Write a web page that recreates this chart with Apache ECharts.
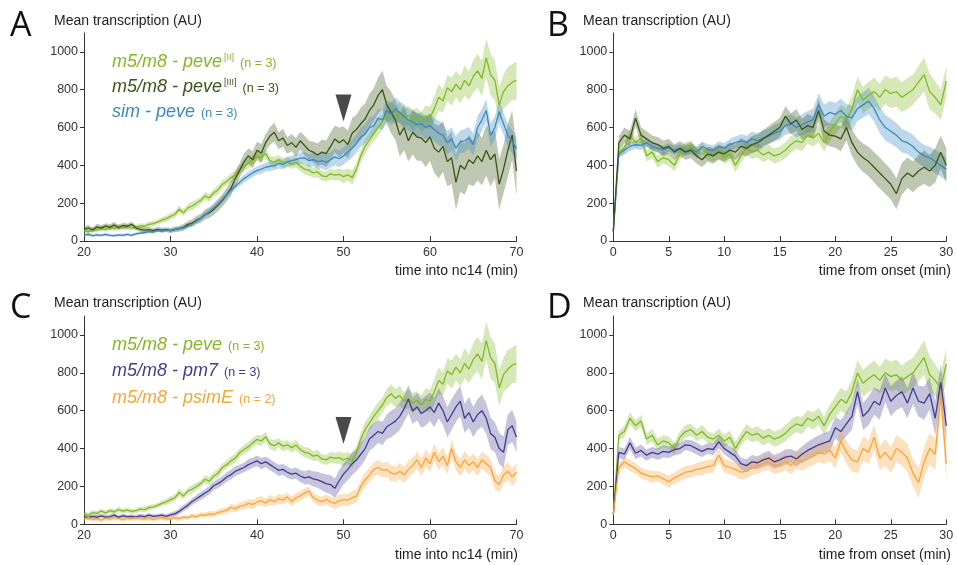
<!DOCTYPE html>
<html>
<head>
<meta charset="utf-8">
<script src="https://cdn.jsdelivr.net/npm/echarts@6/dist/echarts.min.js"></script>
<style>html,body{margin:0;padding:0;background:#fff}#chart{width:957px;height:565px}</style>
</head>
<body>
<div id="chart"></div>
<script>
// tick labels
var xTicksNc14 = [20, 30, 40, 50, 60, 70];
var xTicksOnset = [0, 5, 10, 15, 20, 25, 30];
var yTicks = [0, 200, 400, 600, 800, 1000];

// panels A / C : time into nc14, 20..70 min, every 0.5 min
var peveA = [55,48,62,58,70,60,72,65,78,70, 75,68,72,80,78,88,92,100,110,118,
  130,140,168,150,175,185,200,215,238,228, 255,270,300,315,335,350,378,395,410,430,
  448,440,462,425,415,430,412,420,405,418, 395,380,375,360,365,345,340,355,348,352,
  340,350,335,380,450,500,535,570,600,630, 670,690,665,680,650,665,640,655,630,660,
  650,700,760,740,810,790,830,800,850,820, 870,900,860,970,880,850,720,790,820,840,850];
var peveAErr = [12,13,12,14,12,13,12,14,13,12, 14,13,12,14,13,15,14,13,15,16,
  18,17,20,18,19,22,20,18,21,22, 20,24,22,20,25,23,22,24,26,25,
  25,28,24,26,30,25,27,24,26,28, 25,27,30,26,28,25,27,30,28,32,
  35,32,38,34,36,40,38,42,45,40, 45,50,48,52,46,50,55,48,52,58,
  60,65,70,62,68,75,70,72,80,75, 85,90,95,100,110,105,95,90,100,95,100];

var peve3A = [62,70,58,75,68,80,72,85,70,82, 78,88,70,62,58,60,55,62,58,60,
  55,62,65,72,88,95,110,120,140,150, 168,190,215,245,280,330,375,420,450,430,
  480,465,520,555,575,530,545,505,520,495, 530,505,480,470,455,470,462,500,540,520,
  535,510,570,590,620,645,690,720,770,800, 720,680,640,560,600,530,575,550,545,520,
  550,490,470,500,420,440,310,400,380,430, 410,450,420,480,430,460,300,380,480,560,370];
var peve3AErr = [14,15,14,16,15,14,16,15,14,15, 15,14,13,14,13,14,13,12,13,12,
  14,15,16,18,17,20,22,24,26,28, 30,32,34,36,38,40,38,42,40,45,
  45,48,44,46,50,45,48,44,46,50, 48,52,50,55,60,65,70,75,70,80,
  70,75,80,78,85,82,90,88,95,100, 100,110,105,115,120,110,118,125,120,130,
  125,130,140,135,130,138,145,140,135,130, 120,130,125,135,140,130,135,128,140,130,135];

var simA = [30,35,28,32,30,35,30,28,32,30, 35,30,38,42,45,50,48,55,52,58,
  55,60,65,70,78,90,105,120,140,155, 175,195,220,245,270,290,310,330,345,360,
  372,380,390,395,400,410,405,418,425,430, 438,440,425,430,420,425,415,430,445,435,
  450,470,490,515,550,565,600,610,650,640, 690,670,700,680,660,640,630,615,620,600,
  610,590,570,560,520,540,490,525,530,545, 510,600,640,690,560,600,684,620,560,525,490];
var simAErr = [7,8,7,8,7,8,7,8,7,8, 7,8,7,8,8,9,8,9,8,9,
  9,10,10,11,12,12,13,14,14,15, 15,16,16,17,18,18,19,20,20,22,
  22,24,22,25,24,26,25,28,26,28, 30,32,34,36,38,40,42,40,44,45,
  45,48,50,48,52,50,55,52,50,55, 55,58,60,58,62,60,58,62,60,64,
  60,62,65,60,64,62,65,60,62,58, 60,62,58,60,64,60,62,58,60,62,60];

var pm7C = [40,35,42,38,45,38,40,48,38,45, 40,42,38,45,40,48,42,45,48,42,
  50,55,68,85,100,120,135,150,165,180, 205,215,230,250,262,280,290,300,315,325,
  335,320,330,315,300,285,290,275,265,270, 255,245,250,240,235,225,215,210,190,230,
  265,290,320,340,370,400,450,470,490,480, 515,530,545,570,610,660,600,620,585,600,
  620,590,640,600,540,580,620,650,560,590, 540,580,600,560,480,460,400,380,500,520,460];
var pm7CErr = [10,11,10,12,11,10,12,11,10,12, 11,10,12,11,10,12,11,10,12,11,
  12,14,15,16,18,18,20,20,22,22, 22,24,24,25,26,25,26,25,28,27,
  28,30,28,30,28,30,28,30,28,30, 32,35,38,40,42,45,48,50,52,55,
  55,58,60,58,62,60,62,64,60,62, 65,70,68,72,70,75,70,72,75,78,
  75,78,80,76,80,82,78,80,76,82, 80,82,85,80,84,80,82,85,80,85,80];

var psimEC = [28,35,25,30,22,32,28,35,30,25, 32,28,35,30,28,33,25,30,35,28,
  30,35,30,38,35,45,40,50,48,55, 52,62,68,75,90,82,95,100,110,105,
  118,125,112,130,120,135,128,145,120,140, 150,165,175,140,128,120,132,118,110,125,
  130,128,140,150,200,235,260,290,300,285, 290,270,265,280,260,290,310,340,300,350,
  320,380,330,360,310,400,330,300,340,310, 330,300,340,320,300,230,210,260,280,250,275];
var psimECErr = [10,11,10,12,11,10,12,11,10,12, 11,10,12,11,10,12,11,10,12,11,
  12,11,12,13,12,13,14,13,14,15, 15,16,17,18,18,20,20,22,22,24,
  22,24,22,25,24,26,25,24,26,25, 24,26,25,24,26,25,26,28,30,32,
  30,32,34,36,35,38,36,38,40,38, 40,42,40,44,42,45,42,44,46,45,
  44,46,45,48,46,48,45,46,48,45, 44,46,45,48,46,44,45,46,48,45,46];

// panels B / D : time from onset, 0..30 min, every 0.5 min
var peveB = [50,470,490,560,520,545,450,470,420,440, 430,400,460,490,500,470,490,460,450,470,
  440,460,400,450,490,470,480,455,470,450, 460,480,510,530,520,560,545,570,520,580,
  620,660,640,700,800,745,770,790,760,800, 780,790,760,780,800,840,880,790,760,720,845];
var peveBErr = [10,25,30,32,30,32,30,34,32,30, 34,32,30,34,32,30,34,32,30,34,
  32,34,36,35,38,36,38,40,38,40, 40,42,44,42,45,44,46,45,48,50,
  55,60,62,65,68,70,72,75,72,75, 78,80,78,82,80,85,90,95,85,80,85];

var peve3B = [50,520,560,540,650,560,540,520,510,490, 500,470,490,470,480,450,430,460,450,470,
  460,480,470,500,490,510,520,540,560,580, 600,660,620,640,590,610,600,690,580,560,
  555,540,600,520,470,440,420,390,360,330, 300,250,330,360,340,370,390,370,400,470,400];
var peve3BErr = [10,35,40,42,45,42,40,38,40,42, 40,42,38,40,42,40,38,40,42,40,
  40,42,40,44,42,45,44,46,48,50, 50,52,55,58,55,60,58,60,62,60,
  62,65,68,70,72,75,78,80,82,80, 80,82,85,80,82,85,88,85,90,88,90];

var simB = [50,460,480,500,510,505,520,500,490,480, 495,480,490,475,485,470,500,485,480,500,
  490,510,520,530,520,540,530,545,555,570, 580,610,620,600,615,630,640,720,660,680,
  670,690,660,650,700,720,740,700,640,600, 580,560,530,520,500,470,450,440,420,400,380];
var simBErr = [10,20,22,24,22,24,22,20,22,24, 22,24,22,24,26,24,26,28,26,28,
  28,30,32,34,36,38,40,42,40,44, 45,48,50,52,55,58,60,62,60,62,
  60,62,64,66,65,68,70,68,70,68, 66,64,62,60,62,60,58,60,62,60,60];

var pm7D = [50,380,370,430,375,390,365,380,370,385, 380,395,400,420,415,400,385,400,395,435,
  400,380,360,320,310,330,325,340,350,330, 340,355,360,345,370,390,405,420,430,440,
  510,490,530,570,700,570,600,650,630,720, 650,680,700,640,720,650,640,690,560,750,520];
var pm7DErr = [10,28,30,32,30,32,30,28,30,32, 30,32,30,28,30,32,30,28,30,32,
  30,32,34,32,34,36,34,36,38,36, 38,40,38,40,42,45,48,50,52,55,
  58,60,65,70,68,72,75,72,78,75, 80,78,82,80,85,82,88,85,90,95,90];

var psimED = [50,300,330,310,295,270,260,250,255,240, 225,245,260,275,280,290,295,305,310,365,
  310,300,290,275,280,300,310,320,330,310, 315,330,310,340,330,345,360,380,370,390,
  350,440,380,340,330,400,380,460,350,380, 340,400,380,350,270,220,330,400,370,680,320];
var psimEDErr = [10,25,28,30,28,30,28,30,28,30, 32,30,32,34,32,34,36,34,36,35,
  38,36,38,40,38,40,42,40,42,44, 42,44,46,45,48,46,48,50,52,55,
  55,58,60,62,60,65,62,68,65,70, 68,72,70,75,72,78,80,82,85,90,88];

var lightGreen = '#84b823', darkGreen = '#3b5514', blue = '#3b88c3', purple = '#413c8f', orange = '#f8a53a';
var FONT = '"Liberation Sans", Arial, Helvetica, sans-serif';

function timeGrid(start, n) {
    var out = [];
    for (var i = 0; i < n; i++) out.push(start + i * 0.5);
    return out;
}
var tNc14 = timeGrid(20, peveA.length);
var tOnset = timeGrid(0, peveB.length);

function lineSeries(idx, ts, vs, color) {
    var d = [];
    for (var i = 0; i < vs.length; i++) d.push([ts[i], vs[i]]);
    return {
        type: 'line', xAxisIndex: idx, yAxisIndex: idx, data: d,
        showSymbol: false, symbol: 'none', z: 3, silent: true,
        lineStyle: {color: color, width: 1.3}, itemStyle: {color: color}
    };
}

// shaded error band drawn as one polygon through the axes
function bandSeries(idx, ts, vs, es, fill) {
    var rows = [];
    for (var i = 0; i < vs.length; i++) rows.push([ts[i], vs[i] - es[i], vs[i] + es[i]]);
    return {
        type: 'custom', xAxisIndex: idx, yAxisIndex: idx, data: rows, z: 2, silent: true,
        encode: {x: 0, y: [1, 2]},
        renderItem: function (params, api) {
            if (params.dataIndex !== 0) return null;
            var top = [], bot = [];
            for (var j = 0; j < rows.length; j++) {
                top.push(api.coord([rows[j][0], rows[j][2]]));
                bot.unshift(api.coord([rows[j][0], rows[j][1]]));
            }
            return {type: 'polygon', shape: {points: top.concat(bot)}, style: {fill: fill}};
        }
    };
}

function xAxis(idx, min, max, step, ticks) {
    return {
        type: 'value', gridIndex: idx, min: min, max: max, interval: step,
        axisLine: {show: true, onZero: false, lineStyle: {color: '#333', width: 1}},
        axisTick: {show: true, inside: true, length: 5, lineStyle: {color: '#333'}, customValues: ticks},
        axisLabel: {color: '#333', fontSize: 12.5, fontFamily: FONT, margin: 5, customValues: ticks},
        splitLine: {show: false}
    };
}
function yAxis(idx) {
    return {
        type: 'value', gridIndex: idx, min: 0, max: 1100, interval: 200,
        axisLine: {show: true, onZero: false, lineStyle: {color: '#333', width: 1}},
        axisTick: {show: true, length: 4, lineStyle: {color: '#333'}, customValues: yTicks},
        axisLabel: {color: '#333', fontSize: 12.5, fontFamily: FONT, margin: 6, customValues: yTicks,
            formatter: function (v) { return v > 1000 ? '' : v; }},
        splitLine: {show: false}
    };
}

function txt(x, y, s, size, align, color) {
    return {type: 'text', x: x, y: y, silent: true,
        style: {text: s, fontSize: size, fontFamily: FONT, fill: color || '#222', align: align || 'left', verticalAlign: 'middle'}};
}
function letter(x, y, s) {
    return {type: 'text', x: x, y: y, silent: true,
        style: {text: s, fontSize: 34, fontFamily: '"Open Sans", sans-serif', fill: '#111', verticalAlign: 'middle'}};
}
function legendText(x, y, main, sup, n, color) {
    var s = '{a|' + main + '}' + (sup ? '{s|' + sup + '}' : '') + '{n|' + n + '}';
    return {type: 'text', x: x, y: y, silent: true,
        style: {text: s, verticalAlign: 'middle', rich: {
            a: {fontSize: 18, fontStyle: 'italic', fontFamily: FONT, fill: color, color: color},
            s: {fontSize: 9, fontFamily: FONT, fill: color, color: color, verticalAlign: 'top', padding: [0, 0, 0, 2]},
            n: {fontSize: 12.5, fontFamily: FONT, fill: color, color: color, padding: [3, 0, 0, 6]}
        }}};
}

function arrow(value) {
    return {symbol: 'triangle', symbolRotate: 180, symbolSize: [16, 27],
        itemStyle: {color: '#4a4a4a'}, label: {show: false}, silent: true,
        data: [{coord: [50, value]}]};
}

var sA1 = lineSeries(0, tNc14, peveA, lightGreen);
sA1.markPoint = arrow(704);
var sC1 = lineSeries(2, tNc14, peveA, lightGreen);
sC1.markPoint = arrow(495);

var chart = echarts.init(document.getElementById('chart'), null, {renderer: 'canvas'});
chart.setOption({
    animation: false,
    backgroundColor: '#fff',
    grid: [
        {left: 84, top: 33, width: 432.5, height: 208},
        {left: 613.3, top: 33, width: 333, height: 208},
        {left: 84, top: 316, width: 432.5, height: 208.3},
        {left: 613.3, top: 316, width: 333, height: 208.3}
    ],
    xAxis: [
        xAxis(0, 20, 70, 10, xTicksNc14),
        xAxis(1, 0, 30, 5, xTicksOnset),
        xAxis(2, 20, 70, 10, xTicksNc14),
        xAxis(3, 0, 30, 5, xTicksOnset)
    ],
    yAxis: [yAxis(0), yAxis(1), yAxis(2), yAxis(3)],
    series: [
        bandSeries(0, tNc14, peveA, peveAErr, 'rgba(132,184,35,0.33)'),
        bandSeries(0, tNc14, peve3A, peve3AErr, 'rgba(59,85,20,0.33)'),
        bandSeries(0, tNc14, simA, simAErr, 'rgba(59,136,195,0.33)'),
        sA1,
        lineSeries(0, tNc14, peve3A, darkGreen),
        lineSeries(0, tNc14, simA, blue),

        bandSeries(1, tOnset, peveB, peveBErr, 'rgba(132,184,35,0.33)'),
        bandSeries(1, tOnset, simB, simBErr, 'rgba(59,136,195,0.33)'),
        bandSeries(1, tOnset, peve3B, peve3BErr, 'rgba(59,85,20,0.33)'),
        lineSeries(1, tOnset, peveB, lightGreen),
        lineSeries(1, tOnset, simB, blue),
        lineSeries(1, tOnset, peve3B, darkGreen),

        bandSeries(2, tNc14, peveA, peveAErr, 'rgba(132,184,35,0.33)'),
        bandSeries(2, tNc14, pm7C, pm7CErr, 'rgba(65,60,143,0.3)'),
        bandSeries(2, tNc14, psimEC, psimECErr, 'rgba(248,165,58,0.33)'),
        sC1,
        lineSeries(2, tNc14, pm7C, purple),
        lineSeries(2, tNc14, psimEC, orange),

        bandSeries(3, tOnset, peveB, peveBErr, 'rgba(132,184,35,0.33)'),
        bandSeries(3, tOnset, pm7D, pm7DErr, 'rgba(65,60,143,0.3)'),
        bandSeries(3, tOnset, psimED, psimEDErr, 'rgba(248,165,58,0.33)'),
        lineSeries(3, tOnset, peveB, lightGreen),
        lineSeries(3, tOnset, pm7D, purple),
        lineSeries(3, tOnset, psimED, orange)
    ],
    graphic: [
        letter(10, 26, 'A'), letter(547, 26, 'B'), letter(10, 308, 'C'), letter(547, 308, 'D'),
        txt(54, 21, 'Mean transcription (AU)', 14),
        txt(583, 21, 'Mean transcription (AU)', 14),
        txt(54, 303, 'Mean transcription (AU)', 14),
        txt(583, 303, 'Mean transcription (AU)', 14),
        txt(518, 271, 'time into nc14 (min)', 14, 'right'),
        txt(951, 271, 'time from onset (min)', 14, 'right'),
        txt(518, 555, 'time into nc14 (min)', 14, 'right'),
        txt(951, 555, 'time from onset (min)', 14, 'right'),
        legendText(112, 62, 'm5/m8 - peve', '[II]', '(n = 3)', lightGreen),
        legendText(112, 87, 'm5/m8 - peve', '[III]', '(n = 3)', darkGreen),
        legendText(112, 112, 'sim - peve', '', '(n = 3)', blue),
        legendText(112, 345, 'm5/m8 - peve', '', '(n = 3)', lightGreen),
        legendText(112, 371, 'm5/m8 - pm7', '', '(n = 3)', purple),
        legendText(112, 398, 'm5/m8 - psimE', '', '(n = 2)', orange)
    ]
});
</script>
</body>
</html>
